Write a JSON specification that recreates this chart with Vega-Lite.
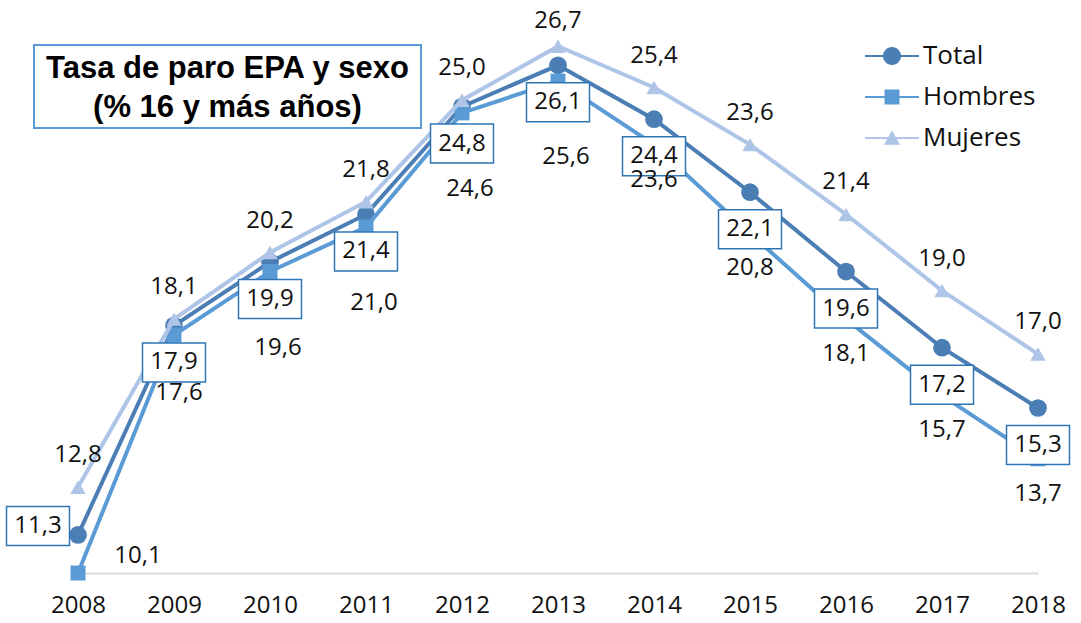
{
  "$schema": "https://vega.github.io/schema/vega-lite/v6.json",
  "width": 1051,
  "height": 568,
  "padding": {"left": 3, "top": 5, "right": 0, "bottom": 5},
  "autosize": {"type": "pad"},
  "background": "white",
  "config": {
    "view": {"stroke": null},
    "font": "Open Sans",
    "locale": {"number": {"decimal": ",", "thousands": ".", "grouping": [3], "currency": ["", " €"]}}
  },
  "data": {
    "values": [
      {"anio": "2008", "serie": "Total", "valor": 11.3},
      {"anio": "2009", "serie": "Total", "valor": 17.9},
      {"anio": "2010", "serie": "Total", "valor": 19.9},
      {"anio": "2011", "serie": "Total", "valor": 21.4},
      {"anio": "2012", "serie": "Total", "valor": 24.8},
      {"anio": "2013", "serie": "Total", "valor": 26.1},
      {"anio": "2014", "serie": "Total", "valor": 24.4},
      {"anio": "2015", "serie": "Total", "valor": 22.1},
      {"anio": "2016", "serie": "Total", "valor": 19.6},
      {"anio": "2017", "serie": "Total", "valor": 17.2},
      {"anio": "2018", "serie": "Total", "valor": 15.3},
      {"anio": "2008", "serie": "Hombres", "valor": 10.1},
      {"anio": "2009", "serie": "Hombres", "valor": 17.6},
      {"anio": "2010", "serie": "Hombres", "valor": 19.6},
      {"anio": "2011", "serie": "Hombres", "valor": 21.0},
      {"anio": "2012", "serie": "Hombres", "valor": 24.6},
      {"anio": "2013", "serie": "Hombres", "valor": 25.6},
      {"anio": "2014", "serie": "Hombres", "valor": 23.6},
      {"anio": "2015", "serie": "Hombres", "valor": 20.8},
      {"anio": "2016", "serie": "Hombres", "valor": 18.1},
      {"anio": "2017", "serie": "Hombres", "valor": 15.7},
      {"anio": "2018", "serie": "Hombres", "valor": 13.7},
      {"anio": "2008", "serie": "Mujeres", "valor": 12.8},
      {"anio": "2009", "serie": "Mujeres", "valor": 18.1},
      {"anio": "2010", "serie": "Mujeres", "valor": 20.2},
      {"anio": "2011", "serie": "Mujeres", "valor": 21.8},
      {"anio": "2012", "serie": "Mujeres", "valor": 25.0},
      {"anio": "2013", "serie": "Mujeres", "valor": 26.7},
      {"anio": "2014", "serie": "Mujeres", "valor": 25.4},
      {"anio": "2015", "serie": "Mujeres", "valor": 23.6},
      {"anio": "2016", "serie": "Mujeres", "valor": 21.4},
      {"anio": "2017", "serie": "Mujeres", "valor": 19.0},
      {"anio": "2018", "serie": "Mujeres", "valor": 17.0}
    ]
  },
  "encoding": {
    "x": {
      "field": "anio",
      "type": "ordinal",
      "scale": {"type": "point", "range": [48, 1008], "padding": 0},
      "axis": {
        "title": null,
        "labelAngle": 0,
        "ticks": false,
        "grid": false,
        "domainColor": "#d9d9d9",
        "domainWidth": 2,
        "labelFontSize": 24,
        "labelColor": "#111111",
        "labelFont": "Open Sans",
        "labelPadding": 32,
        "labelBaseline": "middle"
      }
    },
    "y": {
      "field": "valor",
      "type": "quantitative",
      "scale": {"domain": [10.1, 28], "nice": false, "zero": false},
      "axis": null
    }
  },
  "layer": [
    {
      "transform": [{"filter": "datum.serie === 'Total' && datum.anio === '2010'"}],
      "mark": {"type": "point", "shape": "M-1,-0.2145H1V0.2145H-1Z", "size": 149769, "filled": true, "fill": "white", "stroke": "#5b9bd5", "strokeWidth": 2, "opacity": 1, "xOffset": -42.5},
      "encoding": {"x": {"datum": "2010", "type": "ordinal"}, "y": {"datum": 25.43, "type": "quantitative"}}
    },
    {
      "transform": [{"filter": "datum.serie === 'Total' && datum.anio === '2010'"}],
      "mark": {"type": "text", "text": ["Tasa de paro EPA y sexo", "(% 16 y más años)"], "fontSize": 31, "fontWeight": "bold", "font": "Liberation Sans", "fill": "#000000", "lineHeight": 39, "align": "center", "baseline": "middle", "dx": -42.5, "dy": -17.5},
      "encoding": {"x": {"datum": "2010", "type": "ordinal"}, "y": {"datum": 25.43, "type": "quantitative"}}
    },
    {
      "transform": [{"filter": "datum.serie === 'Total'"}],
      "mark": {"type": "line", "strokeWidth": 4, "color": "#4a7eb4"}
    },
    {
      "transform": [{"filter": "datum.serie === 'Total'"}],
      "mark": {"type": "point", "shape": "circle", "filled": true, "opacity": 1, "size": 314, "color": "#4a7eb4"}
    },
    {
      "transform": [{"filter": "datum.serie === 'Hombres'"}],
      "mark": {"type": "line", "strokeWidth": 4, "color": "#5b9bd5"}
    },
    {
      "transform": [{"filter": "datum.serie === 'Hombres'"}],
      "mark": {"type": "point", "shape": "square", "filled": true, "opacity": 1, "size": 225, "color": "#5b9bd5"}
    },
    {
      "transform": [{"filter": "datum.serie === 'Mujeres'"}],
      "mark": {"type": "line", "strokeWidth": 4, "color": "#aec5e7"}
    },
    {
      "transform": [{"filter": "datum.serie === 'Mujeres'"}],
      "mark": {"type": "point", "shape": "triangle-up", "filled": true, "opacity": 1, "size": 240, "color": "#aec5e7"}
    },
    {
      "mark": {"type": "point", "filled": true, "opacity": 0},
      "encoding": {
        "color": {
          "field": "serie", "type": "nominal",
          "scale": {"domain": ["Total", "Hombres", "Mujeres"], "range": ["#4a7eb4", "#5b9bd5", "#aec5e7"]},
          "legend": {"title": null, "orient": "none", "legendX": 849, "legendY": 38, "symbolSize": 324, "symbolStrokeWidth": 0, "symbolOpacity": 1, "labelFontSize": 26, "labelFont": "Open Sans", "labelColor": "#111111", "labelOffset": 18, "rowPadding": 15, "padding": 0}
        },
        "shape": {
          "field": "serie", "type": "nominal",
          "scale": {
            "domain": ["Total", "Hombres", "Mujeres"],
            "range": [
              "M-3,-0.11H3V0.11H-3Z M0,-1A1,1 0 1,1 0,1A1,1 0 1,1 0,-1Z",
              "M-3,-0.11H3V0.11H-3Z M-0.83,-0.83H0.83V0.83H-0.83Z",
              "M-3,-0.11H3V0.11H-3Z M0,-0.85L0.9,0.75H-0.9Z"
            ]
          },
          "legend": {"title": null, "orient": "none", "legendX": 849, "legendY": 38, "symbolSize": 324, "symbolStrokeWidth": 0, "symbolOpacity": 1, "labelFontSize": 26, "labelFont": "Open Sans", "labelColor": "#111111", "labelOffset": 18, "rowPadding": 15, "padding": 0}
        }
      }
    },
    {
      "transform": [{"filter": "datum.serie === 'Total' && datum.anio !== '2008'"}],
      "mark": {"type": "point", "shape": "M-1,-0.62H1V0.62H-1Z", "size": 3969, "filled": true, "fill": "white", "stroke": "#2e75b6", "strokeWidth": 1.5, "opacity": 1, "yOffset": 37}
    },
    {
      "transform": [{"filter": "datum.serie === 'Total' && datum.anio === '2008'"}],
      "mark": {"type": "point", "shape": "M-1,-0.62H1V0.62H-1Z", "size": 3969, "filled": true, "fill": "white", "stroke": "#2e75b6", "strokeWidth": 1.5, "opacity": 1, "xOffset": -40, "yOffset": -9}
    },
    {
      "transform": [{"filter": "datum.serie === 'Total' && datum.anio !== '2008'"}],
      "mark": {"type": "text", "fontSize": 24, "fill": "#111111", "baseline": "middle", "align": "center", "dy": 37},
      "encoding": {"text": {"field": "valor", "type": "quantitative", "format": ".1f"}}
    },
    {
      "transform": [{"filter": "datum.serie === 'Total' && datum.anio === '2008'"}],
      "mark": {"type": "text", "fontSize": 24, "fill": "#111111", "baseline": "middle", "align": "center", "dx": -40, "dy": -9},
      "encoding": {"text": {"field": "valor", "type": "quantitative", "format": ".1f"}}
    },
    {
      "transform": [{"filter": "datum.serie === 'Mujeres' && datum.anio !== '2013'"}],
      "mark": {"type": "text", "fontSize": 24, "fill": "#111111", "baseline": "middle", "align": "center", "dy": -32},
      "encoding": {"text": {"field": "valor", "type": "quantitative", "format": ".1f"}}
    },
    {
      "transform": [{"filter": "datum.serie === 'Mujeres' && datum.anio === '2013'"}],
      "mark": {"type": "text", "fontSize": 24, "fill": "#111111", "baseline": "middle", "align": "center", "dy": -25},
      "encoding": {"text": {"field": "valor", "type": "quantitative", "format": ".1f"}}
    },
    {
      "transform": [{"filter": "datum.serie === 'Hombres' && datum.anio === '2008'"}],
      "mark": {"type": "text", "fontSize": 24, "fill": "#111111", "baseline": "middle", "align": "center", "dx": 60, "dy": -17},
      "encoding": {"text": {"field": "valor", "type": "quantitative", "format": ".1f"}}
    },
    {
      "transform": [{"filter": "datum.serie === 'Hombres' && datum.anio === '2009'"}],
      "mark": {"type": "text", "fontSize": 24, "fill": "#111111", "baseline": "middle", "align": "center", "dx": 5, "dy": 58},
      "encoding": {"text": {"field": "valor", "type": "quantitative", "format": ".1f"}}
    },
    {
      "transform": [{"filter": "datum.serie === 'Hombres' && datum.anio >= '2010' && datum.anio <= '2013'"}],
      "mark": {"type": "text", "fontSize": 24, "fill": "#111111", "baseline": "middle", "align": "center", "dx": 8, "dy": 76},
      "encoding": {"text": {"field": "valor", "type": "quantitative", "format": ".1f"}}
    },
    {
      "transform": [{"filter": "datum.serie === 'Hombres' && datum.anio >= '2014'"}],
      "mark": {"type": "text", "fontSize": 24, "fill": "#111111", "baseline": "middle", "align": "center", "dy": 35},
      "encoding": {"text": {"field": "valor", "type": "quantitative", "format": ".1f"}}
    }
  ]
}
